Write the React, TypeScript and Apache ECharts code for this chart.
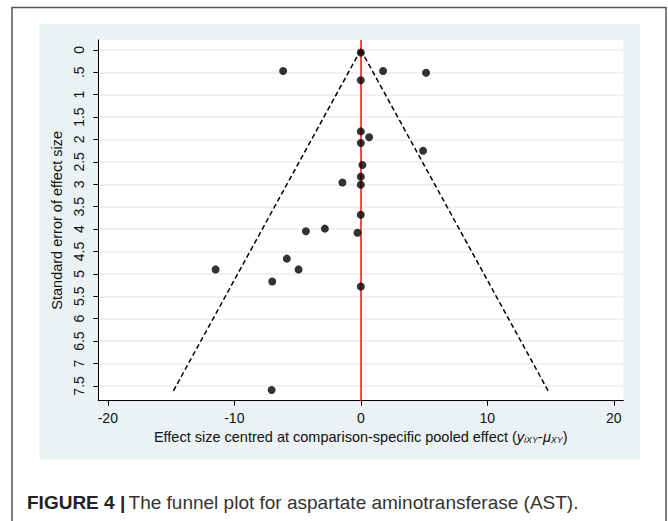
import React, { useEffect, useRef } from 'react';
import * as echarts from 'echarts';

// Study estimates (centred effect size, standard error)
const effectSize = [0, -6.14, 1.76, 5.16, 0, 0, 0.66, 0, 4.92, 0.13, 0, -1.45, 0, 0, -4.34, -2.84, -0.26, -5.85, -11.48, -4.92, -7.0, 0, -7.05];
const standardError = [0.06, 0.47, 0.47, 0.51, 0.68, 1.82, 1.95, 2.08, 2.25, 2.57, 2.83, 2.96, 3.01, 3.68, 4.05, 3.99, 4.08, 4.66, 4.9, 4.9, 5.17, 5.28, 7.59];

// Pseudo 95% confidence limits of the funnel
const funnelSE = [0, 7.63];
const funnelLeftX = [0, -14.85];
const funnelRightX = [0, 14.85];
const pooledEffect = 0;

// Axis ticks
const xTickValues = [-20, -10, 0, 10, 20];
const yTickValues = [0, 0.5, 1, 1.5, 2, 2.5, 3, 3.5, 4, 4.5, 5, 5.5, 6, 6.5, 7, 7.5];
const yTickLabels = ['0', '.5', '1', '1.5', '2', '2.5', '3', '3.5', '4', '4.5', '5', '5.5', '6', '6.5', '7', '7.5'];

const captionBold = 'FIGURE 4 |';
const captionText = 'The funnel plot for aspartate aminotransferase (AST).';

export default function App() {
  const ref = useRef<HTMLDivElement>(null);

  useEffect(() => {
    if (!ref.current) return;
    const chart = echarts.init(ref.current, null, { renderer: 'svg' });
    const font = '"Liberation Sans", Arial, Helvetica, sans-serif';
    const txt = '#111111';

    chart.setOption({
      animation: false,
      backgroundColor: '#ffffff',
      textStyle: { fontFamily: font },
      graphic: [
        {
          type: 'rect',
          z: -20,
          silent: true,
          shape: { x: 12, y: 7.5, width: 654, height: 540 },
          style: { fill: '#ffffff', stroke: '#555555', lineWidth: 1.5 },
        },
        {
          type: 'rect',
          z: -10,
          silent: true,
          shape: { x: 39.5, y: 24, width: 600.5, height: 435.5 },
          style: { fill: '#eaf2f3' },
        },
        {
          type: 'text',
          z: 10,
          x: 27,
          y: 502.5,
          style: {
            text: '{b|' + captionBold + '} {r|' + captionText + '}',
            verticalAlign: 'middle',
            rich: {
              b: { fontFamily: font, fontSize: 19, fontWeight: 'bold', fill: '#222222' },
              r: { fontFamily: font, fontSize: 19, fill: '#333333' },
            },
          },
        },
      ],
      grid: {
        left: 98.3,
        right: 44.7,
        top: 40,
        bottom: 120.3,
        show: true,
        backgroundColor: '#ffffff',
        borderWidth: 0,
      },
      xAxis: {
        type: 'value',
        min: -20.75,
        max: 20.75,
        axisLine: { show: true, onZero: false, lineStyle: { color: '#000', width: 1 } },
        axisTick: { show: true, customValues: xTickValues, length: 5, lineStyle: { color: '#000', width: 1 } },
        axisLabel: { customValues: xTickValues, margin: 10, fontSize: 14, color: txt, fontFamily: font },
        splitLine: { show: false },
        name: '{n|Effect size centred at comparison-specific pooled effect (}{i|y}{s|iXY}{n|-}{i|μ}{s|XY}{n|)}',
        nameLocation: 'middle',
        nameGap: 27,
        nameTextStyle: {
          rich: {
            n: { fontSize: 14.5, color: txt, fontFamily: font },
            i: { fontSize: 14.5, color: txt, fontFamily: font, fontStyle: 'italic' },
            s: { fontSize: 9, color: txt, fontFamily: font, fontStyle: 'italic', padding: [6, 0, 0, 0] },
          },
        },
      },
      yAxis: {
        type: 'value',
        inverse: true,
        min: -0.22,
        max: 7.83,
        axisLine: { show: true, onZero: false, lineStyle: { color: '#000', width: 1 } },
        axisTick: { show: true, customValues: yTickValues, length: 5, lineStyle: { color: '#000', width: 1 } },
        axisLabel: {
          customValues: yTickValues,
          rotate: 90,
          margin: 12,
          fontSize: 14,
          color: txt,
          fontFamily: font,
          formatter: (v: number) => {
            const idx = yTickValues.findIndex((t) => Math.abs(t - v) < 1e-6);
            return idx >= 0 ? yTickLabels[idx] : String(v);
          },
        },
        splitLine: { show: true, lineStyle: { color: '#e6eff1', width: 1.5 } },
        name: 'Standard error of effect size',
        nameLocation: 'middle',
        nameRotate: 90,
        nameGap: 28,
        nameTextStyle: { fontSize: 14.5, color: txt, fontFamily: font },
      },
      series: [
        {
          type: 'line',
          z: 2,
          data: funnelLeftX.map((x, i) => [x, funnelSE[i]]),
          showSymbol: false,
          symbol: 'none',
          lineStyle: { color: '#000', width: 1.5, type: [5, 3] },
          markLine: {
            silent: true,
            symbol: ['none', 'none'],
            label: { show: false },
            lineStyle: { color: '#ff1a1a', width: 1.6, type: 'solid' },
            data: [{ xAxis: pooledEffect }],
          },
        },
        {
          type: 'line',
          z: 2,
          data: funnelRightX.map((x, i) => [x, funnelSE[i]]),
          showSymbol: false,
          symbol: 'none',
          lineStyle: { color: '#000', width: 1.5, type: [5, 3] },
        },
        {
          type: 'scatter',
          z: 5,
          data: effectSize.map((x, i) => [x, standardError[i]]),
          symbol: 'circle',
          symbolSize: 8,
          itemStyle: { color: '#000' },
        },
      ],
    });

    return () => {
      chart.dispose();
    };
  }, []);

  return (
    <div
      ref={ref}
      style={{ position: 'fixed', left: 0, top: 0, width: 668, height: 521 }}
    />
  );
}
